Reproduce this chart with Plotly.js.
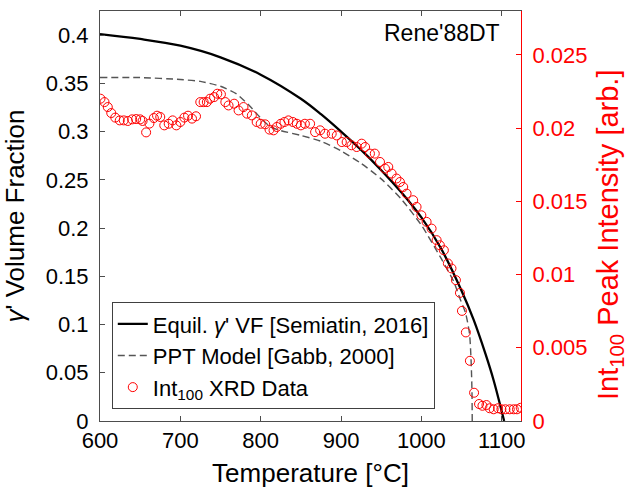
<!DOCTYPE html>
<html>
<head>
<meta charset="utf-8">
<script src="https://cdn.plot.ly/plotly-3.0.1.min.js"></script>
<style>html,body{margin:0;padding:0;background:#fff;}#chart{width:628px;height:489px;}</style>
</head>
<body>
<div id="chart"></div>
<script>
// Equilibrium gamma' volume fraction [Semiatin, 2016]
const eqT  = [600, 650, 700, 750, 800, 850, 875, 900, 925, 950, 975, 1000, 1025, 1050, 1065, 1080, 1090, 1103];
const eqVF = [0.401, 0.396, 0.389, 0.377, 0.359, 0.334, 0.318, 0.300, 0.281, 0.260, 0.237, 0.211, 0.178, 0.135, 0.105, 0.069, 0.042, 0.0];

// PPT model [Gabb, 2000]
const pptT  = [600, 650, 700, 725, 750, 770, 787, 800, 812, 825, 850, 875, 900, 925, 950, 975, 1000, 1025, 1040, 1048, 1055, 1060, 1062, 1063, 1063.3];
const pptVF = [0.356, 0.356, 0.354, 0.352, 0.347, 0.339, 0.326, 0.314, 0.305, 0.301, 0.296, 0.290, 0.280, 0.267, 0.251, 0.230, 0.203, 0.168, 0.145, 0.127, 0.112, 0.090, 0.060, 0.030, 0.0];

// Int100 XRD data
const xrdT = [600.6, 605.6, 609.7, 614, 619, 624.6, 629.6, 634.6, 640, 645, 650, 653, 657.4, 661.5, 667, 671, 675, 680, 685.5, 690.4,
  695, 700, 705, 709.6, 714.5, 719.5, 724.8, 729, 733, 737, 742, 746, 750.5, 756, 760, 767, 772.5, 778.6, 783, 789,
  795, 800, 805.6, 811, 816, 820, 825, 829.6, 834.5, 840, 845, 850, 855, 861.5, 867.7, 874, 880, 888.4, 894.7, 901,
  907, 913, 919.5, 925.7, 930, 936, 942, 948.5, 954.7, 958.8, 963, 969, 973.3, 977.4, 981.6, 989.8, 994, 1000, 1006.5, 1012.7,
  1019, 1023, 1028, 1033, 1037.5, 1043, 1048, 1050.5, 1055.4, 1060.4, 1065.6, 1071.8, 1076, 1081, 1085, 1090, 1095.4, 1099.6, 1104.6, 1110,
  1115, 1119, 1123.6];
const xrdI = [0.02201, 0.02178, 0.02144, 0.02103, 0.02072, 0.02053, 0.02053, 0.02049, 0.0206, 0.02062, 0.0206, 0.02049, 0.01971, 0.02031, 0.02069, 0.02085, 0.02076, 0.02019, 0.0203, 0.02053,
  0.02019, 0.02042, 0.02072, 0.02085, 0.02065, 0.02081, 0.02178, 0.02178, 0.02178, 0.02201, 0.02212, 0.02235, 0.02231, 0.02178, 0.02155, 0.02167, 0.02121, 0.02144, 0.02099, 0.02087,
  0.02042, 0.0203, 0.02026, 0.0199, 0.01985, 0.02008, 0.0203, 0.02042, 0.02053, 0.02042, 0.0203, 0.02019, 0.0203, 0.0203, 0.01973, 0.01985, 0.01962, 0.01962, 0.0195, 0.01905,
  0.01905, 0.01883, 0.01871, 0.01894, 0.01871, 0.01826, 0.01826, 0.01769, 0.01724, 0.01735, 0.0169, 0.01656, 0.01632, 0.01598, 0.01553, 0.01508, 0.01462, 0.01405, 0.0136, 0.01314,
  0.01235, 0.012, 0.01166, 0.01076, 0.01042, 0.00962, 0.00875, 0.00752, 0.00605, 0.00411, 0.00193, 0.00116, 0.00104, 0.00109, 0.00087, 0.0008, 0.00087, 0.0008, 0.0008, 0.0008,
  0.0008, 0.0008, 0.0009];

const xTicks = [600, 700, 800, 900, 1000, 1100];
const yTicks = [0, 0.05, 0.1, 0.15, 0.2, 0.25, 0.3, 0.35, 0.4];
const yTickText = ['0', '0.05', '0.1', '0.15', '0.2', '0.25', '0.3', '0.35', '0.4'];
const y2Ticks = [0, 0.005, 0.01, 0.015, 0.02, 0.025];
const y2TickText = ['0', '0.005', '0.01', '0.015', '0.02', '0.025'];

const FONT = 'Liberation Sans, Arial, Helvetica, sans-serif';
const AXC = '#4d4d4d';

const traces = [
  {x: eqT, y: eqVF, type: 'scatter', mode: 'lines', name: "Equil. <i>γ</i>' VF [Semiatin, 2016]",
   line: {color: '#000000', width: 2.3, shape: 'spline', smoothing: 1}, xaxis: 'x', yaxis: 'y'},
  {x: pptT, y: pptVF, type: 'scatter', mode: 'lines', name: 'PPT Model [Gabb, 2000]',
   line: {color: '#555555', width: 1.4, dash: '7px,4px', shape: 'spline', smoothing: 0.6}, xaxis: 'x', yaxis: 'y'},
  {x: xrdT, y: xrdI, type: 'scatter', mode: 'markers', name: 'Int<sub>100</sub> XRD Data',
   marker: {symbol: 'circle-open', size: 9, color: '#ff0000', line: {width: 1, color: '#ff0000'}}, xaxis: 'x', yaxis: 'y2'}
];

const layout = {
  width: 628, height: 489,
  margin: {l: 100, r: 107, t: 11, b: 68, pad: 0},
  paper_bgcolor: '#ffffff', plot_bgcolor: '#ffffff',
  font: {family: FONT, size: 22, color: '#000000'},
  showlegend: true,
  legend: {x: 0.028, y: 0.029, xanchor: 'left', yanchor: 'bottom', bgcolor: '#ffffff',
           bordercolor: '#404040', borderwidth: 1, font: {family: FONT, size: 22, color: '#000'},
           tracegroupgap: 0},
  xaxis: {range: [600, 1124], tickvals: xTicks, ticktext: xTicks.map(String), ticks: 'inside', ticklen: 5,
          tickcolor: AXC, showline: true, linecolor: AXC, linewidth: 1, mirror: 'ticks', showgrid: false, zeroline: false,
          tickfont: {size: 22, color: '#000'},
          title: {text: 'Temperature [°C]', font: {size: 26, color: '#000'}, standoff: 11}},
  yaxis: {range: [0, 0.425], tickvals: yTicks, ticktext: yTickText, ticks: 'inside', ticklen: 5,
          tickcolor: AXC, showline: true, linecolor: AXC, linewidth: 1, mirror: false, showgrid: false, zeroline: false,
          tickfont: {size: 22, color: '#000'}, ticklabelstandoff: 6,
          title: {text: "<i>γ</i>' Volume Fraction", font: {size: 26, color: '#000'}, standoff: 20}},
  yaxis2: {range: [0, 0.028], overlaying: 'y', side: 'right', anchor: 'x', tickvals: y2Ticks, ticktext: y2TickText,
           ticks: 'inside', ticklen: 5, tickcolor: '#ff0000', showline: true, linecolor: '#ff0000', linewidth: 1,
           showgrid: false, zeroline: false, tickfont: {size: 22, color: '#ff0000'}, ticklabelstandoff: 6},
  annotations: [
    {text: "Rene'88DT", xref: 'paper', yref: 'paper', x: 0.956, y: 0.946, xanchor: 'right', yanchor: 'middle',
     showarrow: false, font: {family: FONT, size: 23, color: '#000'}},
    {text: 'Int<sub>100</sub> Peak Intensity [arb.]', xref: 'paper', yref: 'paper', x: 1.2114, y: 0.4537,
     xanchor: 'center', yanchor: 'middle', textangle: -90, showarrow: false,
     font: {family: FONT, size: 29, color: '#ff0000'}}
  ]
};

Plotly.newPlot('chart', traces, layout, {displayModeBar: false, staticPlot: true});
</script>
</body>
</html>
